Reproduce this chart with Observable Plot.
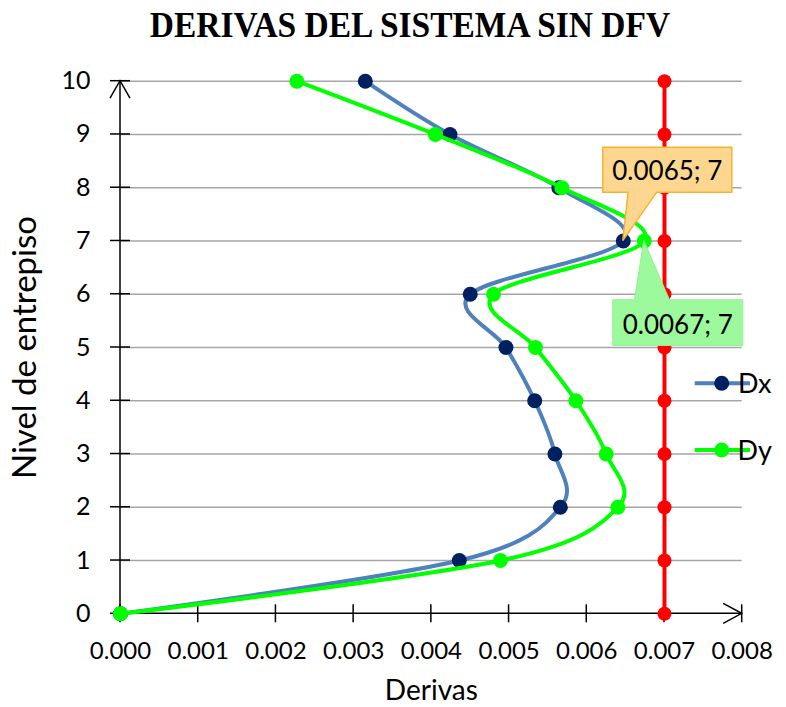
<!DOCTYPE html>
<html><head><meta charset="utf-8">
<script src="https://cdn.jsdelivr.net/npm/d3@7"></script>
<script src="https://cdn.jsdelivr.net/npm/@observablehq/plot@0.6"></script>
<style>
body{margin:0;background:#fff;}
#title{position:relative;width:786px;height:60px;}
#title span{position:absolute;left:409.5px;top:6.5px;transform:translateX(-50%) scaleX(0.93);font:bold 36px "Liberation Serif";line-height:1;white-space:nowrap;color:#000}
</style></head><body>
<div id="title"><span>DERIVAS DEL SISTEMA SIN DFV</span></div>
<div id="chart"></div>
<script>
// ---- data ----
const levels = [0, 1, 2, 3, 4, 5, 6, 7, 8, 9, 10];
const driftX = [0, 0.00436, 0.00566, 0.00559, 0.00533, 0.00496, 0.00450, 0.00647, 0.00564, 0.00424, 0.00315];
const driftY = [0, 0.00489, 0.00640, 0.00625, 0.00586, 0.00534, 0.00480, 0.00674, 0.00568, 0.00405, 0.00227];
const driftLimit = [0.007, 0.007, 0.007, 0.007, 0.007, 0.007, 0.007, 0.007, 0.007, 0.007, 0.007];
const xTicks = [0, 0.001, 0.002, 0.003, 0.004, 0.005, 0.006, 0.007, 0.008];
const yTicks = [0, 1, 2, 3, 4, 5, 6, 7, 8, 9, 10];
const seriesNames = ["Dx", "Dy"];
const calloutLevel = 7;
const xTitle = "Derivas";
const yTitle = "Nivel de entrepiso";

const colDxLine = "#4f81bd", colDxDot = "#002060", colDy = "#00ff00", colLim = "#ff0000";

const rows = levels.map((l, i) => ({level: l, dx: driftX[i], dy: driftY[i], lim: driftLimit[i]}));
const fmt4 = d3.format(".4f");

function axesMark(index, scales) {
  const x = scales.x, y = scales.y;
  const g = d3.create("svg:g").attr("stroke", "#000").attr("stroke-width", 1.5).attr("fill", "none");
  const x0 = x(0), y0 = y(0), xR = x(xTicks[xTicks.length - 1]), yT = y(yTicks[yTicks.length - 1]);
  g.append("line").attr("x1", x0).attr("x2", x0).attr("y1", y0).attr("y2", yT);
  g.append("line").attr("x1", x0).attr("x2", xR).attr("y1", y0).attr("y2", y0);
  yTicks.forEach(t => g.append("line").attr("x1", x0 - 10).attr("x2", x0 + 10).attr("y1", y(t)).attr("y2", y(t)));
  xTicks.forEach(t => g.append("line").attr("x1", x(t)).attr("x2", x(t)).attr("y1", y0 - 9).attr("y2", y0 + 9));
  g.append("polyline").attr("points", `${x0 - 10},${yT + 17.5} ${x0},${yT} ${x0 + 10},${yT + 17.5}`);
  g.append("polyline").attr("points", `${xR - 18.5},${y0 - 10} ${xR},${y0} ${xR - 18.5},${y0 + 10}`);
  return g.node();
}

function calloutMark(index, scales) {
  const x = scales.x, y = scales.y;
  const g = d3.create("svg:g");
  const i = levels.indexOf(calloutLevel);
  // Dx callout (above)
  let tx = x(driftX[i]), ty = y(levels[i]);
  let l = tx - 20, r = tx + 109, t = ty - 93.3, b = ty - 48.3;
  g.append("path")
    .attr("d", `M${l},${t}H${r}V${b}H${tx + 34}L${tx},${ty}L${tx + 5.3},${b}H${l}Z`)
    .attr("fill", "#fdd68f").attr("stroke", "#f5b335").attr("stroke-width", 1.5);
  g.append("text").attr("x", tx + 44.5).attr("y", ty - 70).attr("dy", "0.36em")
    .attr("text-anchor", "middle").attr("font-size", 26).attr("fill", "#000")
    .text(`${fmt4(driftX[i])}; ${levels[i]}`);
  // Dy callout (below)
  tx = x(driftY[i]); ty = y(levels[i]);
  l = tx - 31; r = tx + 99; t = ty + 59.3; b = ty + 105;
  g.append("path")
    .attr("d", `M${l},${t}H${tx - 9.3}L${tx},${ty}L${tx + 25.7},${t}H${r}V${b}H${l}Z`)
    .attr("fill", "#9cf99c").attr("stroke", "#92f092").attr("stroke-width", 1);
  g.append("text").attr("x", tx + 34).attr("y", ty + 84).attr("dy", "0.36em")
    .attr("text-anchor", "middle").attr("font-size", 26).attr("fill", "#000")
    .text(`${fmt4(driftY[i])}; ${levels[i]}`);
  return g.node();
}

function legendMark(index, scales, values, dims) {
  const g = d3.create("svg:g");
  const right = dims.width - dims.marginRight;
  const items = [
    {name: seriesNames[0], line: colDxLine, dot: colDxDot, y: 323.3},
    {name: seriesNames[1], line: colDy, dot: colDy, y: 390}
  ];
  items.forEach(it => {
    g.append("line").attr("x1", right - 47).attr("x2", right + 8.3).attr("y1", it.y).attr("y2", it.y)
      .attr("stroke", it.line).attr("stroke-width", 4);
    g.append("circle").attr("cx", right - 20).attr("cy", it.y).attr("r", 7.5).attr("fill", it.dot);
    g.append("text").attr("x", right + 13).attr("y", it.y).attr("dy", "0.36em")
      .attr("font-size", 27).attr("fill", "#000").text(it.name);
  });
  return g.node();
}

const chart = Plot.plot({
  width: 786,
  height: 647,
  marginLeft: 120,
  marginRight: 44.3,
  marginTop: 20.7,
  marginBottom: 93.7,
  style: {fontFamily: "Lato", background: "#fff", overflow: "visible"},
  x: {domain: [0, 0.008], axis: null},
  y: {domain: [0, 10], axis: null},
  marks: [
    Plot.ruleY(yTicks.filter(d => d > 0), {stroke: "#a6a6a6", strokeWidth: 1.5}),
    axesMark,
    Plot.text(yTicks, {x: 0, y: d => d, dx: -30, textAnchor: "end", fontSize: 25, fill: "#000"}),
    Plot.text(xTicks, {x: d => d, y: 0, dy: 38, text: d => d3.format(".3f")(d), fontSize: 24, fill: "#000"}),
    Plot.text([xTitle], {frameAnchor: "bottom", dy: 86, fontSize: 28, fill: "#000"}),
    Plot.text([yTitle], {frameAnchor: "left", dx: -95, rotate: -90, textAnchor: "middle", fontSize: 33, fill: "#000"}),
    Plot.line(rows, {x: "lim", y: "level", stroke: colLim, strokeWidth: 4}),
    Plot.dot(rows, {x: "lim", y: "level", r: 7, fill: colLim}),
    Plot.line(rows, {x: "dx", y: "level", curve: "cardinal", stroke: colDxLine, strokeWidth: 4}),
    Plot.dot(rows, {x: "dx", y: "level", r: 7.5, fill: colDxDot}),
    Plot.line(rows, {x: "dy", y: "level", curve: "cardinal", stroke: colDy, strokeWidth: 4}),
    Plot.dot(rows, {x: "dy", y: "level", r: 7.5, fill: colDy}),
    calloutMark,
    legendMark
  ]
});
document.getElementById("chart").appendChild(chart);
</script>
</body></html>
